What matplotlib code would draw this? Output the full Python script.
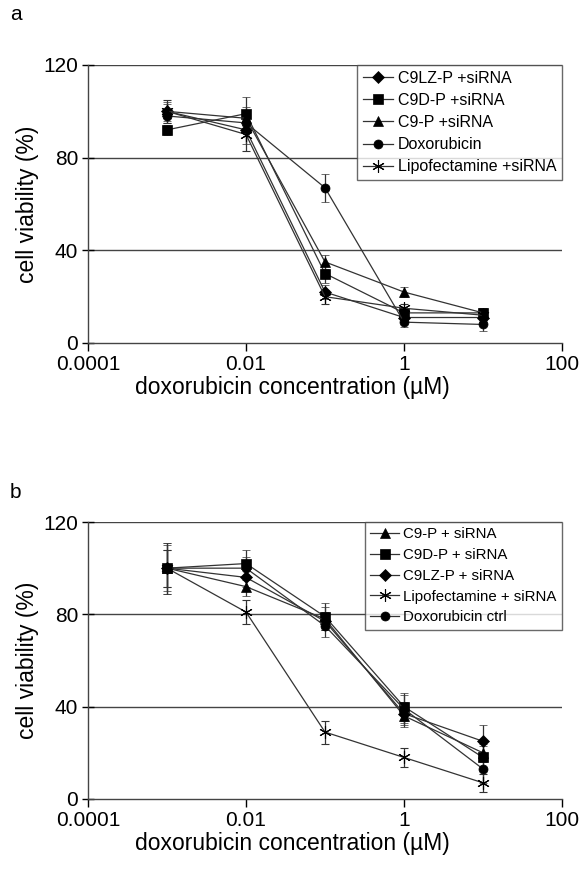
import matplotlib
matplotlib.use("Agg")
import matplotlib.pyplot as plt
from matplotlib.lines import Line2D

plt.rcParams["font.family"] = ["Liberation Sans", "DejaVu Sans"]

# doxorubicin concentration (uM)
conc = [0.001, 0.01, 0.1, 1, 10]

# panel a: cell viability (%) and error bars
a_labels = ["C9LZ-P +siRNA", "C9D-P +siRNA", "C9-P +siRNA", "Doxorubicin", "Lipofectamine +siRNA"]
a_c9lz = [100, 92, 22, 11, 11]
a_c9d = [92, 99, 30, 13, 13]
a_c9p = [100, 97, 35, 22, 13]
a_dox = [98, 95, 67, 9, 8]
a_lipo = [100, 90, 20, 15, 12]
a_c9lz_err = [4, 6, 3, 2, 2]
a_c9d_err = [2, 7, 4, 2, 2]
a_c9p_err = [3, 5, 3, 2, 2]
a_dox_err = [3, 4, 6, 2, 3]
a_lipo_err = [5, 7, 3, 2, 2]

# panel b
b_labels = ["C9-P + siRNA", "C9D-P + siRNA", "C9LZ-P + siRNA", "Lipofectamine + siRNA", "Doxorubicin ctrl"]
b_c9p = [100, 92, 78, 36, 20]
b_c9d = [100, 102, 79, 40, 18]
b_c9lz = [100, 96, 77, 37, 25]
b_lipo = [100, 81, 29, 18, 7]
b_dox = [100, 100, 75, 39, 13]
b_c9p_err = [11, 4, 5, 5, 4]
b_c9d_err = [11, 6, 6, 6, 5]
b_c9lz_err = [8, 4, 4, 5, 7]
b_lipo_err = [8, 5, 5, 4, 4]
b_dox_err = [10, 5, 5, 6, 6]

yticks = [0, 40, 80, 120]
xticks = [0.0001, 0.01, 1, 100]
xticklabels = ["0.0001", "0.01", "1", "100"]

star = (6, 2, 0)
a_markers = ["D", "s", "^", "o", star]
b_markers = ["^", "s", "D", star, "o"]
LINE = "#333333"


def marker_style(m):
    if m == star:
        return dict(marker=m, ms=9, mfc="black", mec="black", mew=0.8)
    return dict(marker=m, ms=6.5, mfc="black", mec="black", mew=0.5)


def style_axes(ax):
    ax.set_xscale("log")
    ax.set_xlim(0.0001, 100)
    ax.set_ylim(0, 120)
    ax.set_xticks(xticks)
    ax.set_xticklabels(xticklabels)
    ax.minorticks_off()
    ax.set_yticks(yticks)
    ax.tick_params(axis="y", direction="inout", length=8, width=1, labelsize=15, pad=3)
    ax.tick_params(axis="x", direction="out", length=6, width=1, labelsize=15, pad=3)
    for side in ["top", "right"]:
        ax.spines[side].set_visible(False)
    for side in ["left", "bottom"]:
        ax.spines[side].set_color("#444444")
        ax.spines[side].set_linewidth(1.0)
    for y in yticks[1:]:
        ax.axhline(y, color="#444444", lw=1.0, zorder=0)
    ax.set_ylabel("cell viability (%)", fontsize=16.5, labelpad=3)
    ax.set_xlabel("doxorubicin concentration (\u00b5M)", fontsize=16.5)
    ax.xaxis.set_label_coords(0.432, -0.118)


def draw(ax, series, errs, labels, markers, fontsize):
    handles = []
    for vals, err, lab, m in zip(series, errs, labels, markers):
        ax.errorbar(conc, vals, yerr=err, color=LINE, lw=0.9,
                    ecolor=LINE, elinewidth=0.9, capsize=3, capthick=0.9,
                    **marker_style(m))
        handles.append(Line2D([], [], color=LINE, lw=0.9, **marker_style(m)))
    leg = ax.legend(handles, labels, loc="upper right", bbox_to_anchor=(1.0, 1.0),
                    fontsize=fontsize, frameon=True, fancybox=False, borderaxespad=0,
                    handlelength=1.9, handletextpad=0.3, labelspacing=0.45,
                    borderpad=0.35)
    leg.get_frame().set_edgecolor("#444444")
    leg.get_frame().set_linewidth(1.0)


fig = plt.figure(figsize=(5.84, 8.73), dpi=100)

ax1 = fig.add_axes((88 / 584, 1 - 343 / 873, 474 / 584, 278 / 873))
style_axes(ax1)
draw(ax1, [a_c9lz, a_c9d, a_c9p, a_dox, a_lipo],
     [a_c9lz_err, a_c9d_err, a_c9p_err, a_dox_err, a_lipo_err], a_labels, a_markers, 11.5)
fig.text(10 / 584, 1 - 15 / 873, "a", fontsize=15, va="center")

ax2 = fig.add_axes((88 / 584, 1 - 799 / 873, 474 / 584, 277 / 873))
style_axes(ax2)
draw(ax2, [b_c9p, b_c9d, b_c9lz, b_lipo, b_dox],
     [b_c9p_err, b_c9d_err, b_c9lz_err, b_lipo_err, b_dox_err], b_labels, b_markers, 10.8)
fig.text(10 / 584, 1 - 493 / 873, "b", fontsize=15, va="center")

fig.savefig("out.png", dpi=100, facecolor="white")
